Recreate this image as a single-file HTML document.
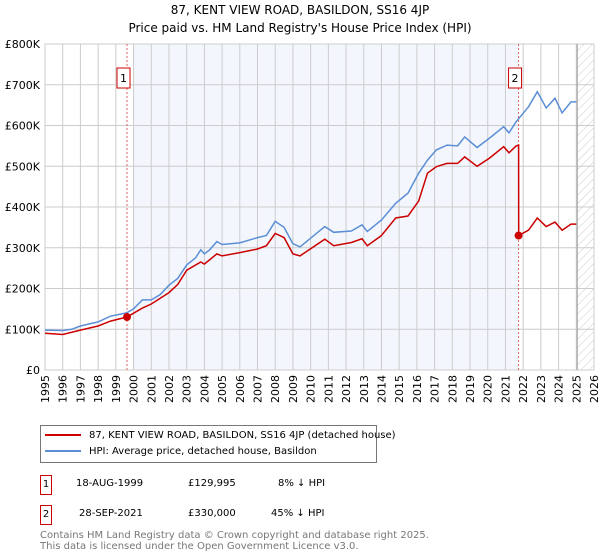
<!DOCTYPE html>
<html><head><meta charset="utf-8"><style>
body{margin:0;background:#fff;font-family:"DejaVu Sans","Liberation Sans",sans-serif;}
#wrap{position:relative;width:600px;height:560px;overflow:hidden}
.t{position:absolute;white-space:nowrap;color:#000}
</style></head><body><div id="wrap">
<div class="t" style="left:0;width:600px;text-align:center;top:1px;font-size:12px;line-height:18px">87, KENT VIEW ROAD, BASILDON, SS16 4JP<br>Price paid vs. HM Land Registry's House Price Index (HPI)</div>
<svg id="chart" width="600" height="415" style="position:absolute;left:0;top:0;font-family:'DejaVu Sans',sans-serif"></svg>
<div style="position:absolute;left:40px;top:425px;width:335px;height:36px;border:1px solid #777;font-size:10px;white-space:nowrap">
<div style="position:absolute;left:4px;top:4px"><span style="display:inline-block;width:36px;height:2px;background:#cc0000;vertical-align:middle;margin-right:8px"></span>87, KENT VIEW ROAD, BASILDON, SS16 4JP (detached house)</div>
<div style="position:absolute;left:4px;top:20px"><span style="display:inline-block;width:36px;height:2px;background:#5b8ed6;vertical-align:middle;margin-right:8px"></span>HPI: Average price, detached house, Basildon</div>
</div>
<div style="position:absolute;left:0;top:475px;font-size:10px">
<div class="t" style="left:40px;top:0;width:10px;height:18px;border:1px solid #cc0000;text-align:center;line-height:18px">1</div>
<div class="t" style="left:76px;top:3px">18-AUG-1999</div><div class="t" style="left:188px;top:3px">£129,995</div><div class="t" style="left:278px;top:3px">8% ↓ HPI</div></div>
<div style="position:absolute;left:0;top:505px;font-size:10px">
<div class="t" style="left:40px;top:0;width:10px;height:18px;border:1px solid #cc0000;text-align:center;line-height:18px">2</div>
<div class="t" style="left:79px;top:3px">28-SEP-2021</div><div class="t" style="left:188px;top:3px">£330,000</div><div class="t" style="left:271px;top:3px">45% ↓ HPI</div></div>
<div class="t" style="left:40px;top:530px;font-size:10px;line-height:11px;color:#777">Contains HM Land Registry data © Crown copyright and database right 2025.<br>This data is licensed under the Open Government Licence v3.0.</div>
</div>
<script>
const hpiYears=[1995,1996,1996.5,1997,1998,1998.7,1999.6,2000,2000.5,2001,2001.5,2002,2002.5,2003,2003.5,2003.8,2004,2004.3,2004.7,2005,2006,2007,2007.5,2008,2008.5,2009,2009.4,2010.8,2011.3,2012.3,2012.9,2013.2,2014,2014.8,2015.5,2016.1,2016.6,2017.1,2017.7,2018.3,2018.7,2019.4,2020.1,2020.9,2021.2,2021.6,2022.3,2022.8,2023.3,2023.8,2024.2,2024.7,2025];
const hpiValues=[98,97,100,108,118,132,140,150,172,172,185,208,225,258,275,295,285,295,315,308,312,325,330,365,350,310,302,352,338,341,356,340,368,409,434,483,515,540,552,550,572,546,569,597,582,609,646,683,643,667,631,658,658];
const priceYears=[1995,1996,1997,1998,1998.7,1999.63,2000.5,2001,2002,2002.5,2003,2003.8,2004,2004.7,2005,2006,2007,2007.5,2008,2008.5,2009,2009.4,2010.8,2011.3,2012.3,2012.9,2013.2,2014,2014.8,2015.5,2016.1,2016.6,2017.1,2017.7,2018.3,2018.7,2019.4,2020.1,2020.9,2021.2,2021.6,2021.74,2021.75,2022.3,2022.8,2023.3,2023.8,2024.2,2024.7,2025];
const priceValues=[90,87,98,108,120,130,152,162,190,210,245,265,260,285,280,288,297,305,335,325,285,280,321,305,313,322,305,330,373,378,415,483,499,507,507,523,500,520,548,533,550,552,330,343,373,352,363,343,358,358];
const sales=[{n:"1",year:1999.63,value:129.995},{n:"2",year:2021.74,value:330}];
const yTicks=[0,100,200,300,400,500,600,700,800];
const yTickLabels=["£0","£100K","£200K","£300K","£400K","£500K","£600K","£700K","£800K"];
const xTicks=[1995,1996,1997,1998,1999,2000,2001,2002,2003,2004,2005,2006,2007,2008,2009,2010,2011,2012,2013,2014,2015,2016,2017,2018,2019,2020,2021,2022,2023,2024,2025,2026];
const L=45,R=594,T=44,B=370;
const x=y=>L+(y-1995)/31*(R-L);
const yv=v=>B-v/800*(B-T);
const svg=document.getElementById('chart');const NS='http://www.w3.org/2000/svg';
function mk(tag,a){const e=document.createElementNS(NS,tag);for(const k in a)e.setAttribute(k,a[k]);svg.appendChild(e);return e;}
const defs=mk('defs',{});defs.innerHTML='<pattern id="hatch" width="6" height="6" patternUnits="userSpaceOnUse" patternTransform="rotate(45)"><line x1="0" y1="0" x2="0" y2="6" stroke="#ccc" stroke-width="1"/></pattern>';
let s=mk('rect',{x:x(2000),y:T,width:x(2021.74)-x(2000),height:B-T,fill:'#eef3fc',opacity:0.7});


let h=mk('rect',{x:x(2025.05),y:T,width:R-x(2025.05),height:B-T,fill:'url(#hatch)'});


xTicks.forEach(t=>{const g=mk('line',{x1:x(t),x2:x(t),y1:T,y2:B,stroke:'#ccc'});


const px=x(t)+4;
const lb=mk('text',{x:px,y:375,'text-anchor':'end','font-size':'11',transform:'rotate(-90 '+px+' 375)'});lb.textContent=t;

});
yTicks.forEach((t,i)=>{const g=mk('line',{x1:L,x2:R,y1:yv(t),y2:yv(t),stroke:'#ccc'});


const lb=mk('text',{x:40,y:yv(t)+4,'text-anchor':'end','font-size':'11'});lb.textContent=yTickLabels[i];

});
let ax=mk('rect',{x:L,y:T,width:R-L,height:B-T,fill:'none',stroke:'#ccc'});


let vl=mk('line',{x1:x(2025.05),x2:x(2025.05),y1:T,y2:B,stroke:'#999','stroke-width':1});


sales.forEach(sl=>{const d=mk('line',{x1:x(sl.year),x2:x(sl.year),y1:T,y2:B,stroke:'#e06060','stroke-dasharray':'2,2'});

});
const pts=(xs,vs)=>xs.map((a,i)=>x(a).toFixed(1)+','+yv(vs[i]).toFixed(1)).join(' ');
let hp=mk('polyline',{points:pts(hpiYears,hpiValues),fill:'none',stroke:'#5b8ed6','stroke-width':1.5});


let pp=mk('polyline',{points:pts(priceYears,priceValues),fill:'none',stroke:'#cc0000','stroke-width':1.5});


sales.forEach(sl=>{const c=mk('circle',{cx:x(sl.year),cy:yv(sl.value),r:4,fill:'#cc0000'});


const bx=mk('rect',{x:x(sl.year)-10,y:68,width:13,height:20,fill:'#fff',stroke:'#cc0000'});


const tx=mk('text',{x:x(sl.year)-3.5,y:82,'text-anchor':'middle','font-size':'11'});tx.textContent=sl.n;

});
</script></body></html>
